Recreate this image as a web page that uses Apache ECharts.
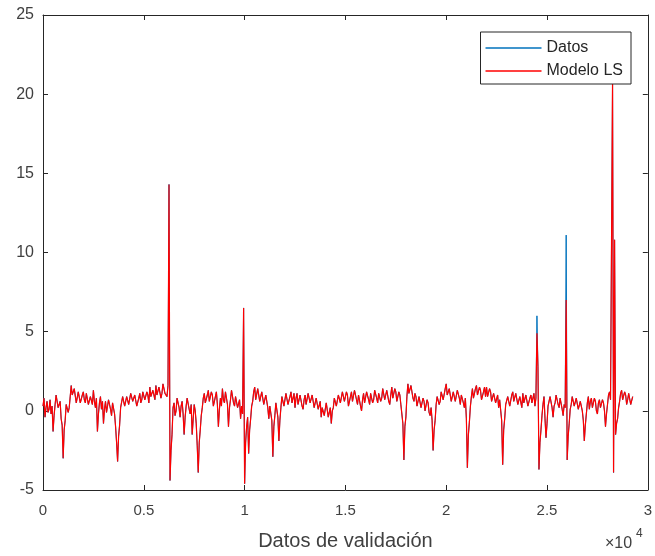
<!DOCTYPE html>
<html>
<head>
<meta charset="utf-8">
<script src="https://cdn.jsdelivr.net/npm/echarts@6/dist/echarts.min.js"></script>
<style>html,body{margin:0;padding:0;background:#fff}#c{width:655px;height:556px}</style>
</head>
<body>
<div id="c"></div>
<script>
// sample step between stored points
var step = 50;
var seriesNames = ['Datos', 'Modelo LS'];
var xTicks = [0, 0.5, 1, 1.5, 2, 2.5, 3];
var yTicks = [-5, 0, 5, 10, 15, 20, 25];

var modelo = [
 0.3,0.8,-0.4,0.2,0.6,-0.1,0.1,0.7,-0.2,0.3,-1.3,-0.3,0.4,1.0,0.9,0.2,0.2,0.6,-0.5,-0.9,
 -3.0,-1.2,-0.6,0.4,0.5,-0.1,0.2,0.9,1.6,1.0,0.9,1.4,1.3,0.5,0.6,1.2,1.1,0.5,0.4,1.0,
 1.2,0.7,0.5,1.1,1.0,0.4,0.3,0.9,0.9,0.4,1.3,0.6,0.2,0.8,-1.3,-0.2,0.5,0.9,0.1,0.6,
 -0.8,0.1,0.6,-0.1,0.0,0.7,0.8,0.1,-0.3,0.5,0.4,-0.2,-1.0,-2.0,-3.2,-1.6,-0.9,0.2,0.3,0.9,
 0.8,0.3,0.2,0.9,1.0,0.4,0.5,1.1,1.2,0.6,0.6,1.0,0.9,0.3,0.3,0.8,1.1,0.5,0.7,1.2,
 1.3,0.7,0.6,1.2,1.0,0.5,1.5,0.9,0.8,1.3,1.2,0.7,1.6,1.0,0.9,1.5,1.4,0.8,1.1,1.7,
 1.8,1.1,1.2,0.9,1.6,14.3,-4.4,-2.5,-1.5,0.2,0.5,-0.3,0.0,0.8,0.9,0.2,-0.4,0.3,0.6,-0.2,
 -1.5,-0.4,0.3,0.8,0.7,0.1,-0.2,0.4,-1.5,-0.5,0.4,0.0,-0.8,-2.2,-3.9,-2.0,-1.2,-0.3,0.2,0.8,
 1.1,0.5,0.4,1.0,1.3,0.6,0.7,1.2,1.0,0.3,0.2,0.9,1.2,0.4,-1.0,0.1,0.8,0.3,1.4,0.7,
 0.5,1.2,1.1,0.4,-1.0,0.2,0.7,1.3,1.2,0.5,0.3,0.9,0.9,0.2,0.1,0.7,-0.5,0.3,-0.2,6.5,
 -4.6,-2.0,-1.0,-0.4,-2.7,-1.2,-0.5,0.3,0.6,1.2,1.5,0.7,0.8,1.4,1.3,0.6,0.5,1.2,1.1,0.4,
 0.3,1.0,0.9,0.2,-0.5,0.3,0.4,-0.6,-2.9,-1.0,-0.3,0.5,0.6,-0.4,-1.9,-0.6,0.2,0.9,0.8,0.3,
 0.4,1.1,1.0,0.4,0.3,0.9,1.2,0.5,0.6,1.1,0.2,0.8,1.1,0.4,0.5,1.0,0.9,0.3,0.1,0.7,
 1.0,0.4,0.4,1.1,1.2,0.5,0.6,1.0,0.9,0.2,0.3,0.8,0.8,0.1,0.0,0.6,-0.4,0.2,0.3,-0.3,
 -0.2,0.5,0.4,-0.4,-0.3,0.2,-0.8,0.0,0.2,0.8,0.9,0.3,0.3,1.0,1.1,0.5,0.5,1.2,1.3,0.6,
 0.6,1.2,1.0,0.3,0.2,0.9,1.2,0.6,0.7,1.3,1.4,0.7,0.4,1.0,0.9,0.3,0.0,0.7,1.1,0.5,
 0.6,1.2,1.3,0.7,0.4,1.1,1.0,0.5,0.7,1.3,1.4,0.8,0.5,1.1,1.1,0.6,0.8,1.4,1.3,0.7,
 0.7,1.3,1.2,0.6,0.4,1.0,1.5,0.8,0.9,1.4,1.2,0.6,0.6,1.2,1.0,0.4,0.3,-0.8,-3.1,-1.0,
 -0.4,0.9,1.7,1.1,1.2,1.6,1.5,0.8,0.6,1.1,0.9,0.3,0.3,0.9,0.8,0.2,0.2,0.8,0.6,0.0,
 0.1,0.7,0.5,-0.1,-0.3,0.2,-0.6,-2.5,-1.2,-0.6,0.4,0.9,1.0,0.4,0.6,1.2,1.3,0.7,0.8,1.4,
 1.7,1.0,0.9,1.4,1.3,0.6,0.5,1.2,1.2,0.6,0.7,1.3,1.4,0.8,0.4,1.0,1.0,0.5,0.2,0.8,
 -0.5,-3.6,-1.5,-0.7,0.3,0.9,1.4,0.8,0.8,1.4,1.6,1.0,1.0,1.5,1.3,0.7,0.6,1.2,1.5,0.9,
 1.5,0.9,0.9,1.4,1.2,0.6,0.5,1.1,1.1,0.5,0.4,1.0,0.2,0.7,0.7,-0.6,-3.4,-1.2,-0.5,0.4,
 0.3,0.9,0.9,0.3,0.4,1.0,1.2,0.6,0.6,1.1,1.0,0.4,0.3,0.9,0.8,0.2,1.1,0.5,0.5,1.0,
 0.9,0.3,0.2,0.8,1.0,0.5,0.6,1.1,0.3,0.8,4.9,2.8,-3.7,-2.0,-1.2,-0.3,0.4,0.9,-0.5,-1.7,
 -0.8,0.3,0.3,0.9,0.8,0.2,-0.4,0.3,0.5,1.0,1.0,0.4,0.2,0.8,0.7,0.1,-0.3,0.4,0.2,7.0,
 -3.1,-1.6,-0.8,0.1,0.4,0.9,0.9,0.3,0.2,0.8,0.7,0.1,0.0,0.6,0.6,0.0,-0.6,-1.9,-0.9,-0.2,
 0.5,0.9,0.1,0.6,0.8,0.2,0.3,0.8,0.6,0.0,-0.2,0.5,0.7,0.2,0.2,0.7,0.5,0.0,-1.0,-0.2,
 0.4,1.0,1.2,0.7,0.8,20.8,-3.9,10.8,-1.5,-0.8,-0.5,0.2,0.6,1.1,1.3,0.7,0.7,1.2,1.0,0.4,
 0.7,1.1,1.0,0.4,0.5,0.9
];

var datos = [
 0.3,0.8,-0.4,0.2,0.6,-0.1,0.1,0.7,-0.2,0.3,-1.3,-0.3,0.4,1.0,0.9,0.2,0.2,0.6,-0.5,-0.9,
 -3.0,-1.2,-0.6,0.4,0.5,-0.1,0.2,0.9,1.6,1.0,0.9,1.4,1.3,0.5,0.6,1.2,1.1,0.5,0.4,1.0,
 1.2,0.7,0.5,1.1,1.0,0.4,0.3,0.9,0.9,0.4,1.3,0.6,0.2,0.8,-1.3,-0.2,0.5,0.9,0.1,0.6,
 -0.8,0.1,0.6,-0.1,0.0,0.7,0.8,0.1,-0.3,0.5,0.4,-0.2,-1.0,-2.0,-3.2,-1.6,-0.9,0.2,0.3,0.9,
 0.8,0.3,0.2,0.9,1.0,0.4,0.5,1.1,1.2,0.6,0.6,1.0,0.9,0.3,0.3,0.8,1.1,0.5,0.7,1.2,
 1.3,0.7,0.6,1.2,1.0,0.5,1.5,0.9,0.8,1.3,1.2,0.7,1.6,1.0,0.9,1.5,1.4,0.8,1.1,1.7,
 1.8,1.1,1.2,0.9,1.6,14.3,-4.4,-2.5,-1.5,0.2,0.5,-0.3,0.0,0.8,0.9,0.2,-0.4,0.3,0.6,-0.2,
 -1.5,-0.4,0.3,0.8,0.7,0.1,-0.2,0.4,-1.5,-0.5,0.4,0.0,-0.8,-2.2,-3.9,-2.0,-1.2,-0.3,0.2,0.8,
 1.1,0.5,0.4,1.0,1.3,0.6,0.7,1.2,1.0,0.3,0.2,0.9,1.2,0.4,-1.0,0.1,0.8,0.3,1.4,0.7,
 0.5,1.2,1.1,0.4,-1.0,0.2,0.7,1.3,1.2,0.5,0.3,0.9,0.9,0.2,0.1,0.7,-0.5,0.3,-0.2,6.5,
 -4.6,-2.0,-1.0,-0.4,-2.7,-1.2,-0.5,0.3,0.6,1.2,1.5,0.7,0.8,1.4,1.3,0.6,0.5,1.2,1.1,0.4,
 0.3,1.0,0.9,0.2,-0.5,0.3,0.4,-0.6,-2.9,-1.0,-0.3,0.5,0.6,-0.4,-1.9,-0.6,0.2,0.9,0.8,0.3,
 0.4,1.1,1.0,0.4,0.3,0.9,1.2,0.5,0.6,1.1,0.2,0.8,1.1,0.4,0.5,1.0,0.9,0.3,0.1,0.7,
 1.0,0.4,0.4,1.1,1.2,0.5,0.6,1.0,0.9,0.2,0.3,0.8,0.8,0.1,0.0,0.6,-0.4,0.2,0.3,-0.3,
 -0.2,0.5,0.4,-0.4,-0.3,0.2,-0.8,0.0,0.2,0.8,0.9,0.3,0.3,1.0,1.1,0.5,0.5,1.2,1.3,0.6,
 0.6,1.2,1.0,0.3,0.2,0.9,1.2,0.6,0.7,1.3,1.4,0.7,0.4,1.0,0.9,0.3,0.0,0.7,1.1,0.5,
 0.6,1.2,1.3,0.7,0.4,1.1,1.0,0.5,0.7,1.3,1.4,0.8,0.5,1.1,1.1,0.6,0.8,1.4,1.3,0.7,
 0.7,1.3,1.2,0.6,0.4,1.0,1.5,0.8,0.9,1.4,1.2,0.6,0.6,1.2,1.0,0.4,0.3,-0.8,-3.1,-1.0,
 -0.4,0.9,1.7,1.1,1.2,1.6,1.5,0.8,0.6,1.1,0.9,0.3,0.3,0.9,0.8,0.2,0.2,0.8,0.6,0.0,
 0.1,0.7,0.5,-0.1,-0.3,0.2,-0.6,-2.5,-1.2,-0.6,0.4,0.9,1.0,0.4,0.6,1.2,1.3,0.7,0.8,1.4,
 1.7,1.0,0.9,1.4,1.3,0.6,0.5,1.2,1.2,0.6,0.7,1.3,1.4,0.8,0.4,1.0,1.0,0.5,0.2,0.8,
 -0.5,-3.6,-1.5,-0.7,0.3,0.9,1.4,0.8,0.8,1.4,1.6,1.0,1.0,1.5,1.3,0.7,0.6,1.2,1.5,0.9,
 1.5,0.9,0.9,1.4,1.2,0.6,0.5,1.1,1.1,0.5,0.4,1.0,0.2,0.7,0.7,-0.6,-3.4,-1.2,-0.5,0.4,
 0.3,0.9,0.9,0.3,0.4,1.0,1.2,0.6,0.6,1.1,1.0,0.4,0.3,0.9,0.8,0.2,1.1,0.5,0.5,1.0,
 0.9,0.3,0.2,0.8,1.0,0.5,0.6,1.1,0.3,0.8,6.0,2.8,-3.7,-2.0,-1.2,-0.3,0.4,0.9,-0.5,-1.7,
 -0.8,0.3,0.3,0.9,0.8,0.2,-0.4,0.3,0.5,1.0,1.0,0.4,0.2,0.8,0.7,0.1,-0.3,0.4,0.2,11.1,
 -3.1,-1.6,-0.8,0.1,0.4,0.9,0.9,0.3,0.2,0.8,0.7,0.1,0.0,0.6,0.6,0.0,-0.6,-1.9,-0.9,-0.2,
 0.5,0.9,0.1,0.6,0.8,0.2,0.3,0.8,0.6,0.0,-0.2,0.5,0.7,0.2,0.2,0.7,0.5,0.0,-1.0,-0.2,
 0.4,1.0,1.2,0.7,0.8,20.8,-3.9,10.8,-1.5,-0.8,-0.5,0.2,0.6,1.1,1.3,0.7,0.7,1.2,1.0,0.4,
 0.7,1.1,1.0,0.4,0.5,0.9
];

function pairs(arr){ return arr.map(function(v,i){ return [i*step, v]; }); }

var axisCol = '#262626';
var labelCol = '#404040';
var font = 'Liberation Sans';

var chart = echarts.init(document.getElementById('c'), null, {renderer:'canvas'});
chart.setOption({
  animation: false,
  backgroundColor: '#fff',
  textStyle: {fontFamily: font},
  grid: {left: 43, right: 7, top: 15, bottom: 63, containLabel: false},
  legend: {
    data: seriesNames,
    orient: 'vertical',
    right: 24, top: 32,
    backgroundColor: '#fff',
    borderColor: '#262626', borderWidth: 1,
    padding: [8, 8, 5, 5],
    itemGap: 7,
    itemWidth: 56, itemHeight: 1.5,
    icon: 'rect',
    textStyle: {fontSize: 16, color: '#262626', fontFamily: font}
  },
  xAxis: [{
    type: 'value', min: 0, max: 30000, interval: 5000,
    position: 'bottom',
    name: 'Datos de validación', nameLocation: 'middle', nameGap: 41,
    nameTextStyle: {fontSize: 20, color: labelCol, fontFamily: font},
    axisLine: {show: true, onZero: false, lineStyle: {color: axisCol, width: 1}},
    axisTick: {show: true, inside: true, length: 5, lineStyle: {color: axisCol}},
    axisLabel: {fontSize: 15, color: labelCol, margin: 13,
      formatter: function(v){ var t = v/10000; return xTicks.indexOf(t) >= 0 ? String(t) : ''; }},
    splitLine: {show: false}
  }, {
    type: 'value', min: 0, max: 30000, interval: 5000, position: 'top',
    axisLine: {show: true, onZero: false, lineStyle: {color: axisCol, width: 1}},
    axisTick: {show: true, inside: true, length: 5, lineStyle: {color: axisCol}},
    axisLabel: {show: false}, splitLine: {show: false}
  }],
  yAxis: [{
    type: 'value', min: -5, max: 25, interval: 5,
    position: 'left',
    axisLine: {show: true, onZero: false, lineStyle: {color: axisCol, width: 1}},
    axisTick: {show: true, inside: true, length: 5, lineStyle: {color: axisCol}},
    axisLabel: {fontSize: 16, color: labelCol, margin: 9,
      formatter: function(v){ return yTicks.indexOf(v) >= 0 ? String(v) : ''; }},
    splitLine: {show: false}
  }, {
    type: 'value', min: -5, max: 25, interval: 5, position: 'right',
    axisLine: {show: true, onZero: false, lineStyle: {color: axisCol, width: 1}},
    axisTick: {show: true, inside: true, length: 5, lineStyle: {color: axisCol}},
    axisLabel: {show: false}, splitLine: {show: false}
  }],
  series: [{
    name: seriesNames[0], type: 'line', data: pairs(datos),
    showSymbol: false, symbol: 'none',
    color: '#0072BD',
    lineStyle: {color: '#0072BD', width: 1},
    z: 2
  }, {
    name: seriesNames[1], type: 'line', data: pairs(modelo),
    showSymbol: false, symbol: 'none',
    color: '#FF0000',
    lineStyle: {color: '#FF0000', width: 1.2},
    z: 3
  }],
  graphic: [{
    type: 'text', left: 605, top: 536,
    style: {text: '×10', fontSize: 16, fontFamily: font, fill: labelCol}
  }, {
    type: 'text', left: 636, top: 528,
    style: {text: '4', fontSize: 12, fontFamily: font, fill: labelCol}
  }]
});
</script>
</body>
</html>
